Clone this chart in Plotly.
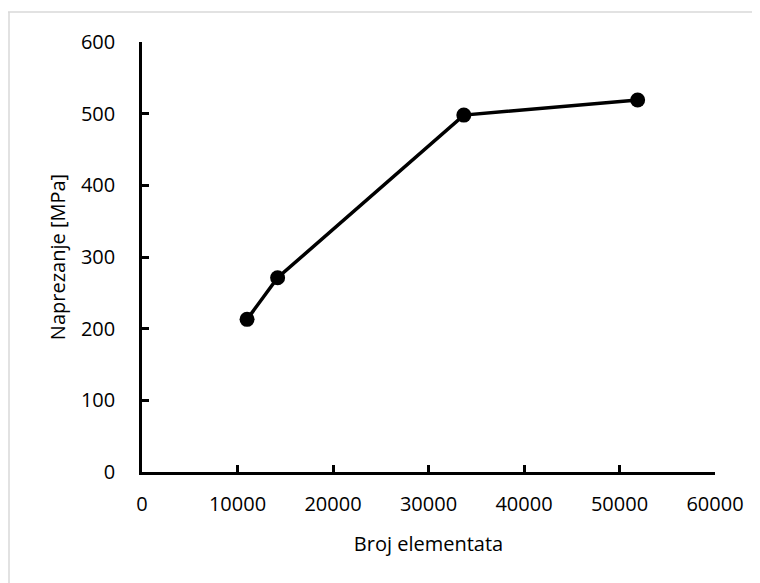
import plotly.graph_objects as go

broj_elemenata = [11000, 14200, 33700, 51900]
naprezanje = [213, 271, 498, 519]
x_ticks = [0, 10000, 20000, 30000, 40000, 50000, 60000]
y_ticks = [0, 100, 200, 300, 400, 500, 600]

FONT = "Open Sans"

# page body adds an 8px offset; margins compensate for it
L, R, T, B = 134, 53, 34, 119
PW, PH = 760 - L - R, 583 - T - B

fig = go.Figure()
fig.add_trace(go.Scatter(
    x=broj_elemenata, y=naprezanje, mode="lines+markers",
    line=dict(color="black", width=3.5),
    marker=dict(color="black", size=15),
    showlegend=False, cliponaxis=False,
))

fig.update_layout(
    width=760, height=583,
    margin=dict(l=L, r=R, t=T, b=B),
    paper_bgcolor="white", plot_bgcolor="white",
    font=dict(family=FONT, size=20, color="black"),
    xaxis=dict(
        range=[0, 60000], tickvals=x_ticks, ticktext=[str(v) for v in x_ticks],
        showgrid=False, zeroline=False, showline=True, linecolor="black", linewidth=2.5,
        ticks="inside", ticklen=7, tickwidth=2.5, tickcolor="black",
        title=dict(text="Broj elementata", standoff=22, font=dict(size=20)),
        ticklabelstandoff=12,
    ),
    yaxis=dict(
        range=[0, 600], tickvals=y_ticks, ticktext=[str(v) for v in y_ticks],
        showgrid=False, zeroline=False, showline=True, linecolor="black", linewidth=2.5,
        ticks="inside", ticklen=7, tickwidth=2.5, tickcolor="black",
        title=dict(text="Naprezanje [MPa]", standoff=10, font=dict(size=20)),
        ticklabelstandoff=20,
    ),
    shapes=[
        dict(type="line", xref="paper", yref="paper", x0=-L / PW, x1=1.2,
             y0=1 + (T - 4) / PH, y1=1 + (T - 4) / PH,
             line=dict(color="#d9d9d9", width=1.5)),
        dict(type="line", xref="paper", yref="paper", x0=-(L - 1) / PW, x1=-(L - 1) / PW,
             y0=-0.5, y1=1 + (T - 4) / PH,
             line=dict(color="#d9d9d9", width=1.5)),
    ],
)

fig.write_html("out.html")
